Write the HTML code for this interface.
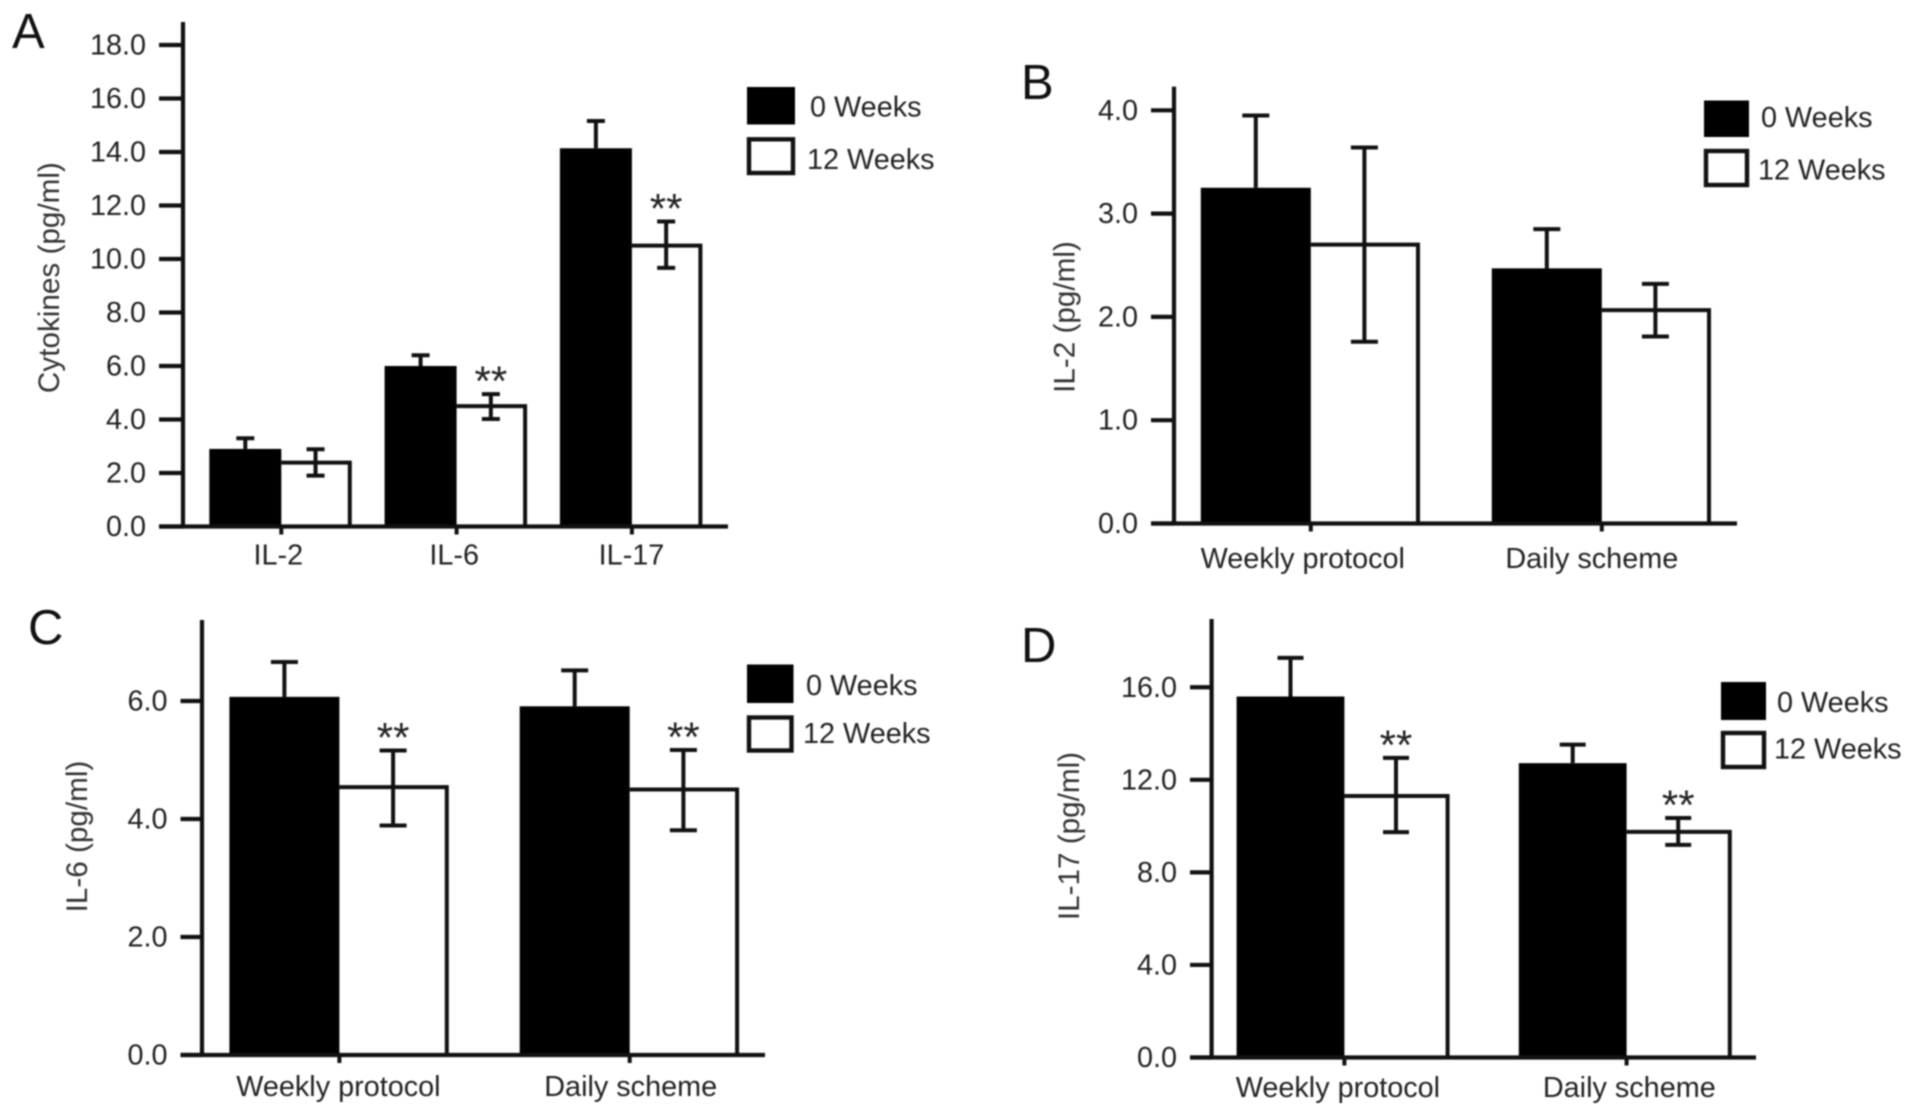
<!DOCTYPE html>
<html lang="en">
<head>
<meta charset="utf-8">
<title>Cytokine levels at 0 and 12 weeks</title>
<style>
html,body{margin:0;padding:0;background:#fff;}
svg{display:block;filter:blur(0.8px);}
text{font-family:"Liberation Sans",sans-serif;fill:#222;font-size:28.8px;}
.title{fill:#333;font-size:29.7px;text-anchor:middle;}
.letter{font-size:49px;fill:#111;}
</style>
</head>
<body>
<svg id="figure" xmlns="http://www.w3.org/2000/svg" width="1913" height="1116" viewBox="0 0 1913 1116">
  <rect x="0" y="0" width="1913" height="1116" fill="#fff"/>

  <g id="panel-a">
    <text class="letter" x="12" y="48">A</text>
    <text class="title" transform="translate(59 277.6) rotate(-90)">Cytokines (pg/ml)</text>
    <rect x="747" y="87" width="48" height="37.5" fill="#000"/>
    <rect x="749" y="139.3" width="44" height="33.7" fill="#fff" stroke="#111" stroke-width="4.4"/>
    <text x="810" y="116.5">0 Weeks</text>
    <text x="807" y="169">12 Weeks</text>
  </g>

  <g id="panel-b">
    <text class="letter" x="1021" y="99">B</text>
    <text class="title" transform="translate(1074.6 317) rotate(-90)">IL-2 (pg/ml)</text>
    <rect x="1704" y="100.5" width="45" height="36.5" fill="#000"/>
    <rect x="1706" y="151" width="41" height="34" fill="#fff" stroke="#111" stroke-width="4.4"/>
    <text x="1761" y="126.8">0 Weeks</text>
    <text x="1758" y="179.6">12 Weeks</text>
  </g>

  <g id="panel-c">
    <text class="letter" x="28" y="644">C</text>
    <text class="title" transform="translate(87 836.5) rotate(-90)">IL-6 (pg/ml)</text>
    <rect x="747" y="664.5" width="46.5" height="38.5" fill="#000"/>
    <rect x="749" y="717.5" width="42.5" height="33" fill="#fff" stroke="#111" stroke-width="4.4"/>
    <text x="806" y="694.8">0 Weeks</text>
    <text x="803" y="742.8">12 Weeks</text>
  </g>

  <g id="panel-d">
    <text class="letter" x="1021" y="662">D</text>
    <text class="title" transform="translate(1079 836) rotate(-90)">IL-17 (pg/ml)</text>
    <rect x="1721" y="682" width="45" height="38" fill="#000"/>
    <rect x="1723" y="733" width="41" height="34" fill="#fff" stroke="#111" stroke-width="4.4"/>
    <text x="1777" y="711.8">0 Weeks</text>
    <text x="1774" y="758.6">12 Weeks</text>
  </g>
</svg>

<script>
// Panel A data
const panelACategories = ['IL-2', 'IL-6', 'IL-17'];
const panelATicks = [0, 2, 4, 6, 8, 10, 12, 14, 16, 18];
const panelAWeeks0 = [2.9, 6.0, 14.14];
const panelAWeeks0ErrTop = [3.3, 6.4, 15.16];
const panelAWeeks12 = [2.39, 4.5, 10.5];
const panelAWeeks12ErrTop = [2.89, 4.95, 11.4];
const panelAWeeks12ErrBottom = [1.9, 4.02, 9.67];
const panelASignificant = [false, true, true];

// Panel B data
const panelBCategories = ['Weekly protocol', 'Daily scheme'];
const panelBTicks = [0, 1, 2, 3, 4];
const panelBWeeks0 = [3.25, 2.47];
const panelBWeeks0ErrTop = [3.95, 2.85];
const panelBWeeks12 = [2.70, 2.065];
const panelBWeeks12ErrTop = [3.64, 2.32];
const panelBWeeks12ErrBottom = [1.76, 1.81];
const panelBSignificant = [false, false];

// Panel C data
const panelCCategories = ['Weekly protocol', 'Daily scheme'];
const panelCTicks = [0, 2, 4, 6];
const panelCWeeks0 = [6.07, 5.91];
const panelCWeeks0ErrTop = [6.66, 6.52];
const panelCWeeks12 = [4.54, 4.5];
const panelCWeeks12ErrTop = [5.16, 5.17];
const panelCWeeks12ErrBottom = [3.89, 3.81];
const panelCSignificant = [true, true];

// Panel D data
const panelDCategories = ['Weekly protocol', 'Daily scheme'];
const panelDTicks = [0, 4, 8, 12, 16];
const panelDWeeks0 = [15.6, 12.72];
const panelDWeeks0ErrTop = [17.27, 13.52];
const panelDWeeks12 = [11.3, 9.75];
const panelDWeeks12ErrTop = [12.95, 10.35];
const panelDWeeks12ErrBottom = [9.74, 9.19];
const panelDSignificant = [true, true];

const SVG_NS = 'http://www.w3.org/2000/svg';
const INK = '#111';

function line(parent, x1, y1, x2, y2, width) {
  const el = document.createElementNS(SVG_NS, 'line');
  el.setAttribute('x1', x1);
  el.setAttribute('y1', y1);
  el.setAttribute('x2', x2);
  el.setAttribute('y2', y2);
  el.setAttribute('stroke', INK);
  el.setAttribute('stroke-width', width);
  parent.appendChild(el);
  return el;
}

function label(parent, x, y, anchor, content) {
  const el = document.createElementNS(SVG_NS, 'text');
  el.setAttribute('x', x);
  el.setAttribute('y', y);
  el.setAttribute('text-anchor', anchor);
  el.textContent = content;
  parent.appendChild(el);
  return el;
}

function drawPanel(id, data, layout) {
  const root = document.getElementById(id);
  const yScale = v => layout.y0 - v * layout.unit;
  const blackLeft = i => layout.barStart + i * layout.step;
  const blackRight = i => blackLeft(i) + layout.blackWidth;
  const whiteRight = i => blackRight(i) + layout.whiteWidth;
  const blackMid = i => (blackLeft(i) + blackRight(i)) / 2;
  const whiteMid = i => (blackRight(i) + whiteRight(i)) / 2;

  data.categories.forEach((name, i) => {
    const barA = document.createElementNS(SVG_NS, 'rect');
    barA.setAttribute('x', blackLeft(i));
    barA.setAttribute('y', yScale(data.weeks0[i]));
    barA.setAttribute('width', layout.blackWidth);
    barA.setAttribute('height', layout.y0 - yScale(data.weeks0[i]));
    barA.setAttribute('fill', '#000');
    
    
    root.appendChild(barA);

    const errA = line(root, blackMid(i), yScale(data.weeks0[i]), blackMid(i), yScale(data.weeks0Top[i]), 4);
    
    
    const capA = line(root, blackMid(i) - layout.cap / 2, yScale(data.weeks0Top[i]), blackMid(i) + layout.cap / 2, yScale(data.weeks0Top[i]), 4);
    
    

    const barB = document.createElementNS(SVG_NS, 'path');
    barB.setAttribute('d', 'M' + blackRight(i) + ' ' + yScale(data.weeks12[i]) + 'H' + whiteRight(i) + 'V' + layout.y0);
    barB.setAttribute('fill', '#fff');
    barB.setAttribute('stroke', INK);
    barB.setAttribute('stroke-width', 4);
    
    
    root.appendChild(barB);

    const errB = line(root, whiteMid(i), yScale(data.weeks12Bottom[i]), whiteMid(i), yScale(data.weeks12Top[i]), 4);
    
    
    const capTop = line(root, whiteMid(i) - layout.cap / 2, yScale(data.weeks12Top[i]), whiteMid(i) + layout.cap / 2, yScale(data.weeks12Top[i]), 4);
    
    
    const capBottom = line(root, whiteMid(i) - layout.cap / 2, yScale(data.weeks12Bottom[i]), whiteMid(i) + layout.cap / 2, yScale(data.weeks12Bottom[i]), 4);
    
    

    if (data.significant[i]) {
      const star = label(root, whiteMid(i), yScale(data.weeks12Top[i]) + 1.5, 'middle', '**');
      star.style.fontSize = '42px';
      
      
    }

    const tick = line(root, blackRight(i), layout.y0, blackRight(i), layout.y0 + 8, 4);
    
    

    const cat = label(root, blackRight(i) + layout.labelDx[i], layout.y0 + layout.labelGap, 'middle', name);
    
    
  });

  const yAxis = line(root, layout.axisX, layout.axisTop, layout.axisX, layout.y0 + 2, 4.2);
  
  
  const xAxis = line(root, layout.tickLeft, layout.y0, layout.xRight, layout.y0, 4.2);
  
  

  data.ticks.forEach(v => {
    const mark = line(root, layout.tickLeft, yScale(v), layout.axisX, yScale(v), 4.2);
    
    
    const text = label(root, layout.tickLeft - 13, yScale(v) + 9.5, 'end', v.toFixed(1));
    
    
  });
}

drawPanel('panel-a', {
  categories: panelACategories, ticks: panelATicks, significant: panelASignificant,
  weeks0: panelAWeeks0, weeks0Top: panelAWeeks0ErrTop,
  weeks12: panelAWeeks12, weeks12Top: panelAWeeks12ErrTop, weeks12Bottom: panelAWeeks12ErrBottom
}, { axisX: 183, axisTop: 22, tickLeft: 159, xRight: 728, y0: 526.5, unit: 26.75, barStart: 209.3, blackWidth: 72, whiteWidth: 68.5, step: 175.3, cap: 18, labelDx: [-3, -2.4, -0.4], labelGap: 38 });

drawPanel('panel-b', {
  categories: panelBCategories, ticks: panelBTicks, significant: panelBSignificant,
  weeks0: panelBWeeks0, weeks0Top: panelBWeeks0ErrTop,
  weeks12: panelBWeeks12, weeks12Top: panelBWeeks12ErrTop, weeks12Bottom: panelBWeeks12ErrBottom
}, { axisX: 1174, axisTop: 86.6, tickLeft: 1151, xRight: 1737, y0: 523.5, unit: 103.3, barStart: 1200.8, blackWidth: 110, whiteWidth: 107.2, step: 291, cap: 27, labelDx: [-8, -10], labelGap: 44.5 });

drawPanel('panel-c', {
  categories: panelCCategories, ticks: panelCTicks, significant: panelCSignificant,
  weeks0: panelCWeeks0, weeks0Top: panelCWeeks0ErrTop,
  weeks12: panelCWeeks12, weeks12Top: panelCWeeks12ErrTop, weeks12Bottom: panelCWeeks12ErrBottom
}, { axisX: 202, axisTop: 620, tickLeft: 180.5, xRight: 765, y0: 1055, unit: 59, barStart: 229.4, blackWidth: 110, whiteWidth: 107.4, step: 290.3, cap: 27, labelDx: [-1, 1], labelGap: 41 });

drawPanel('panel-d', {
  categories: panelDCategories, ticks: panelDTicks, significant: panelDSignificant,
  weeks0: panelDWeeks0, weeks0Top: panelDWeeks0ErrTop,
  weeks12: panelDWeeks12, weeks12Top: panelDWeeks12ErrTop, weeks12Bottom: panelDWeeks12ErrBottom
}, { axisX: 1211.6, axisTop: 619, tickLeft: 1190, xRight: 1756, y0: 1057.5, unit: 23.14, barStart: 1236.6, blackWidth: 107.8, whiteWidth: 103.2, step: 282.2, cap: 26, labelDx: [-6.5, 2.7], labelGap: 39.5 });
</script>
</body>
</html>
